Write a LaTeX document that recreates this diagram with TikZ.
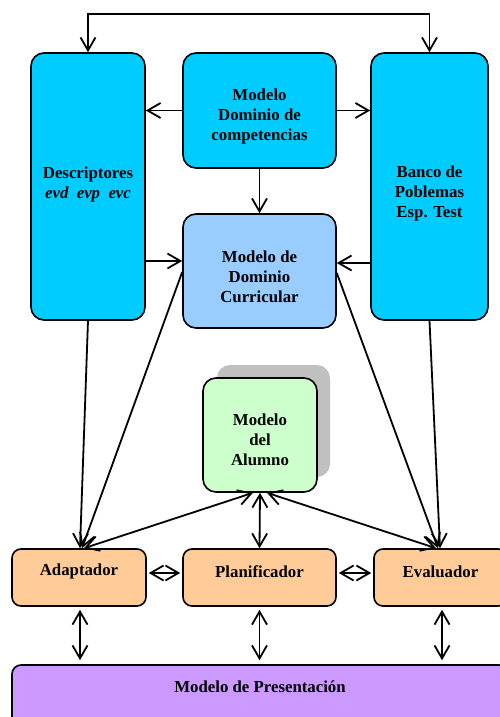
\documentclass[tikz,border=0pt]{standalone}
\usepackage{fontspec}
\setmainfont{Liberation Serif}
\usetikzlibrary{arrows.meta}

\definecolor{cyanfill}{HTML}{00CCFF}
\definecolor{bluefill}{HTML}{99CCFF}
\definecolor{greenfill}{HTML}{CCFFCC}
\definecolor{peachfill}{HTML}{FFCC99}
\definecolor{lilacfill}{HTML}{CC99FF}
\definecolor{shadowgray}{HTML}{C0C0C0}

\tikzset{
  box/.style={draw=black, line width=1.6pt, rounded corners=13pt, inner sep=0pt},
  smallbox/.style={box, rounded corners=9pt},
  lbl/.style={font=\fontsize{16.8}{20}\selectfont\bfseries, align=center, inner sep=0pt},
  barb/.tip={Straight Barb[length=13pt,width=15pt]},
  arr/.style={line width=1.8pt, -barb},
  darr/.style={line width=1.8pt, barb-barb},
}

\begin{document}
\begin{tikzpicture}[x=1pt,y=-1pt]
\useasboundingbox (0,0) rectangle (500,717);

% upper row
\node[box, fill=cyanfill, minimum width=114pt, minimum height=267pt] (desc) at (88,186.5) {};
\node[box, fill=cyanfill, minimum width=153pt, minimum height=115pt] (comp) at (259.5,110.5) {};
\node[box, fill=cyanfill, minimum width=117pt, minimum height=267pt] (banco) at (429.5,186.5) {};
\node[box, fill=bluefill, minimum width=153pt, minimum height=114pt] (curr) at (259.5,271) {};

\node[lbl] (descT) at (88,184) {Descriptores\\\textit{evd\ \ evp\ \ evc}};
\node[lbl] (compT) at (259.5,116) {Modelo\\Dominio de\\competencias};
\node[lbl] (bancoT) at (429.5,193) {Banco de\\Poblemas\\Esp. Test};
\node[lbl] (currT) at (259.5,277) {Modelo de\\Dominio\\Curricular};

% student model with its shadow
\node[box, draw=none, fill=shadowgray, minimum width=113pt, minimum height=112pt] (alumS) at (273.5,421) {};
\node[box, fill=greenfill, minimum width=114pt, minimum height=114pt] (alum) at (260,435) {};
\node[lbl] (alumT) at (260,440) {Modelo\\del\\Alumno};

% lower row
\node[smallbox, fill=peachfill, minimum width=134pt, minimum height=57pt] (adap) at (79,577.5) {};
\node[smallbox, fill=peachfill, minimum width=153pt, minimum height=57pt] (plan) at (259.5,577.5) {};
\node[smallbox, fill=peachfill, minimum width=133pt, minimum height=57pt] (eval) at (440.5,577.5) {};
\node[lbl] (adapT) at (79,571.5) {Adaptador};
\node[lbl] (planT) at (259.5,571.5) {Planificador};
\node[lbl] (evalT) at (440.5,571.5) {Evaluador};

\node[smallbox, fill=lilacfill, minimum width=496pt, minimum height=70pt] (pres) at (260,700) {};
\node[lbl] (presT) at (260,687) {Modelo de Presentación};

% anchor points for the vertical links to the presentation model
\coordinate (adapB) at ([xshift=1pt]adap.south);
\coordinate (evalB) at ([xshift=1.5pt]eval.south);

% connectors
\draw[darr] (desc.north) -- ++(0,-38) -| (banco.north);
\draw[arr] (comp.west) -- (desc.east |- comp.west);
\draw[arr] (comp.east) -- (banco.west |- comp.east);
\draw[arr] (comp.south) -- (curr.north);
\draw[arr] (desc.east |- 0,261) -- (curr.west |- 0,261);
\draw[arr] (banco.west |- 0,263) -- (curr.east |- 0,263);

\draw[arr] (desc.south) -- ([xshift=1pt]adap.north);
\draw[arr] (curr.west |- 0,272) -- ([xshift=3pt]adap.north);
\draw[darr] ([xshift=-7pt]alum.south) -- ([xshift=5pt]adap.north);

\draw[arr] (banco.south) -- ([xshift=-0.5pt]eval.north);
\draw[arr] (curr.east |- 0,273) -- ([xshift=-2.5pt]eval.north);
\draw[darr] ([xshift=7pt]alum.south) -- ([xshift=-4.5pt]eval.north);

\draw[darr] (alum.south) -- (plan.north);
\draw[darr, shorten <=2pt, shorten >=2pt] (adap.east |- 0,573) -- (plan.west |- 0,573);
\draw[darr, shorten <=2pt, shorten >=2pt] (plan.east |- 0,573) -- (eval.west |- 0,573);

\draw[darr, shorten <=3pt, shorten >=4pt] (adapB) -- (pres.north -| adapB);
\draw[darr, shorten <=3pt, shorten >=4pt] (plan.south) -- (pres.north -| plan.south);
\draw[darr, shorten <=3pt, shorten >=4pt] (evalB) -- (pres.north -| evalB);
\end{tikzpicture}
\end{document}
